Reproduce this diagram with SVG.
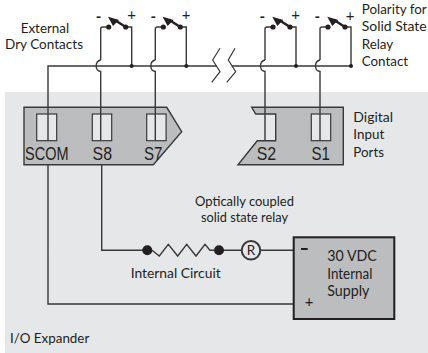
<svg xmlns="http://www.w3.org/2000/svg" width="428" height="353" viewBox="0 0 428 353">
<style>
text{font-family:"Lato","Liberation Sans",sans-serif;font-size:13.4px;fill:#231f20}
.a{font-family:"Liberation Sans",Arial,sans-serif;font-size:19px}
.w{fill:none;stroke:#3a3839;stroke-width:1.4}
.p{fill:#bcbdbf;stroke:#3a3839;stroke-width:1.4}
.t{fill:#e6e7e8;stroke:#3a3839;stroke-width:1.2}
.d{fill:#231f20}
.arm{stroke:#231f20;stroke-width:2.4;fill:none}
.s{font-size:15px;text-anchor:middle}
.v{font-size:14.5px}
</style>
<defs>
<g id="sw">
<path class="w" d="M0 39V8Q0 6 2 6H8M25 6H31V45"/>
<circle class="d" cx="8" cy="6" r="2.6"/><circle class="d" cx="25" cy="6" r="2.6"/>
<path class="arm" d="M25 6L14 -1"/>
<path class="d" d="M7.300 -4.300L18.300 -1L12.300 5Z"/>
<circle class="d" cx="31" cy="45" r="2"/>
<path class="w" d="M0 39Q-4.500 40 -4.500 45Q-4.500 50 0 50.500V119.700"/>
</g>
</defs>
<rect width="428" height="353" fill="#fff"/>
<rect id="background" x="5" y="92" width="423" height="261" fill="#e6e7e8"/>
<g id="port-left">
<path class="p" d="M24 107.300H166.700L181.700 131.700L153.300 164.700H24Z"/>
<rect class="t" x="36.700" y="114" width="20" height="26.700"/>
<rect class="t" x="92.300" y="114" width="19.400" height="26.700"/>
<rect class="t" x="146.700" y="114" width="19.400" height="26.700"/>
<text class="a" x="25" y="160" textLength="43.500" lengthAdjust="spacingAndGlyphs">SCOM</text>
<text class="a" x="92.500" y="160" textLength="19.500" lengthAdjust="spacingAndGlyphs">S8</text>
<text class="a" x="144" y="160" textLength="18.500" lengthAdjust="spacingAndGlyphs">S7</text>
</g>
<g id="port-right">
<path class="p" d="M251.700 107.300H343.300V164.700H238L257.300 140.700H275.700V114H255.700Z"/>
<rect class="t" x="311.300" y="114" width="19.400" height="26.700"/>
<text class="a" x="256.700" y="160" textLength="19.500" lengthAdjust="spacingAndGlyphs">S2</text>
<text class="a" x="311.500" y="160" textLength="18.500" lengthAdjust="spacingAndGlyphs">S1</text>
</g>
<g id="connectors">
<path class="w" d="M48 140.700V66H216.700M232 66H350.700"/>
<path class="w" d="M48 164.700V304H294M101.700 164.700V250.300H147M219 250.300H242M260 250.300H294"/>
<use href="#sw" x="100.700" y="21"/>
<use href="#sw" x="155.300" y="21"/>
<use href="#sw" x="265" y="21"/>
<use href="#sw" x="320" y="21"/>
</g>
<g id="break">
<path fill="none" stroke="#3a3839" stroke-width="1.2" d="M220 48.300L212.700 60L220 71.700L211.700 82.300M235 48.300L228.300 60L235.700 71.700L226.700 82.300"/>
</g>
<g id="circuit">
<circle class="d" cx="147.300" cy="250.300" r="5"/>
<circle class="d" cx="219" cy="250.300" r="5"/>
<path class="w" d="M152 250.300L159.300 256L168.300 244.300L177.700 256L186.700 244.300L196 256L205 244.300L210 250.300H215"/>
<circle cx="251" cy="250.300" r="9.300" fill="#e6e7e8" stroke="#3a3839" stroke-width="2"/>
<text x="251" y="255" style="font-size:13.500px;text-anchor:middle">R</text>
</g>
<g id="supply">
<rect x="293.700" y="237.300" width="100.600" height="81.700" fill="#bcbdbf" stroke="#231f20" stroke-width="2"/>
<path stroke="#231f20" stroke-width="2" d="M301 249H307.700"/>
<text x="309" y="307" class="s">+</text>
<text x="327.300" y="261" class="v" textLength="49.500" lengthAdjust="spacingAndGlyphs">30 VDC</text>
<text x="327.300" y="279" class="v" textLength="45" lengthAdjust="spacingAndGlyphs">Internal</text>
<text x="327.300" y="296" class="v" textLength="42" lengthAdjust="spacingAndGlyphs">Supply</text>
</g>
<g id="labels">
<text x="20.700" y="32.700" textLength="48.500" lengthAdjust="spacingAndGlyphs">External</text>
<text x="5" y="49.300" textLength="78" lengthAdjust="spacingAndGlyphs">Dry Contacts</text>
<text x="195" y="206" textLength="99" lengthAdjust="spacingAndGlyphs">Optically coupled</text>
<text x="201" y="222" textLength="87" lengthAdjust="spacingAndGlyphs">solid state relay</text>
<text x="130.700" y="277.500" textLength="90" lengthAdjust="spacingAndGlyphs">Internal Circuit</text>
<text x="10" y="343">I/O Expander</text>
<text x="353.300" y="122" textLength="39.700" lengthAdjust="spacingAndGlyphs">Digital</text>
<text x="353.300" y="139.300">Input</text>
<text x="353.300" y="156.700">Ports</text>
<text x="361.700" y="14" textLength="65" lengthAdjust="spacingAndGlyphs">Polarity for</text>
<text x="361.700" y="30.700" textLength="65" lengthAdjust="spacingAndGlyphs">Solid State</text>
<text x="361.700" y="49.300">Relay</text>
<text x="361.700" y="65.700">Contact</text>
<text x="98.500" y="22" class="s" font-weight="700">-</text>
<text x="131.700" y="20" class="s">+</text>
<text x="153.300" y="22" class="s" font-weight="700">-</text>
<text x="186" y="20" class="s">+</text>
<text x="262.300" y="22" class="s" font-weight="700">-</text>
<text x="295.700" y="20" class="s">+</text>
<text x="317.300" y="22" class="s" font-weight="700">-</text>
<text x="350" y="20.500" class="s">+</text>
</g>
</svg>
